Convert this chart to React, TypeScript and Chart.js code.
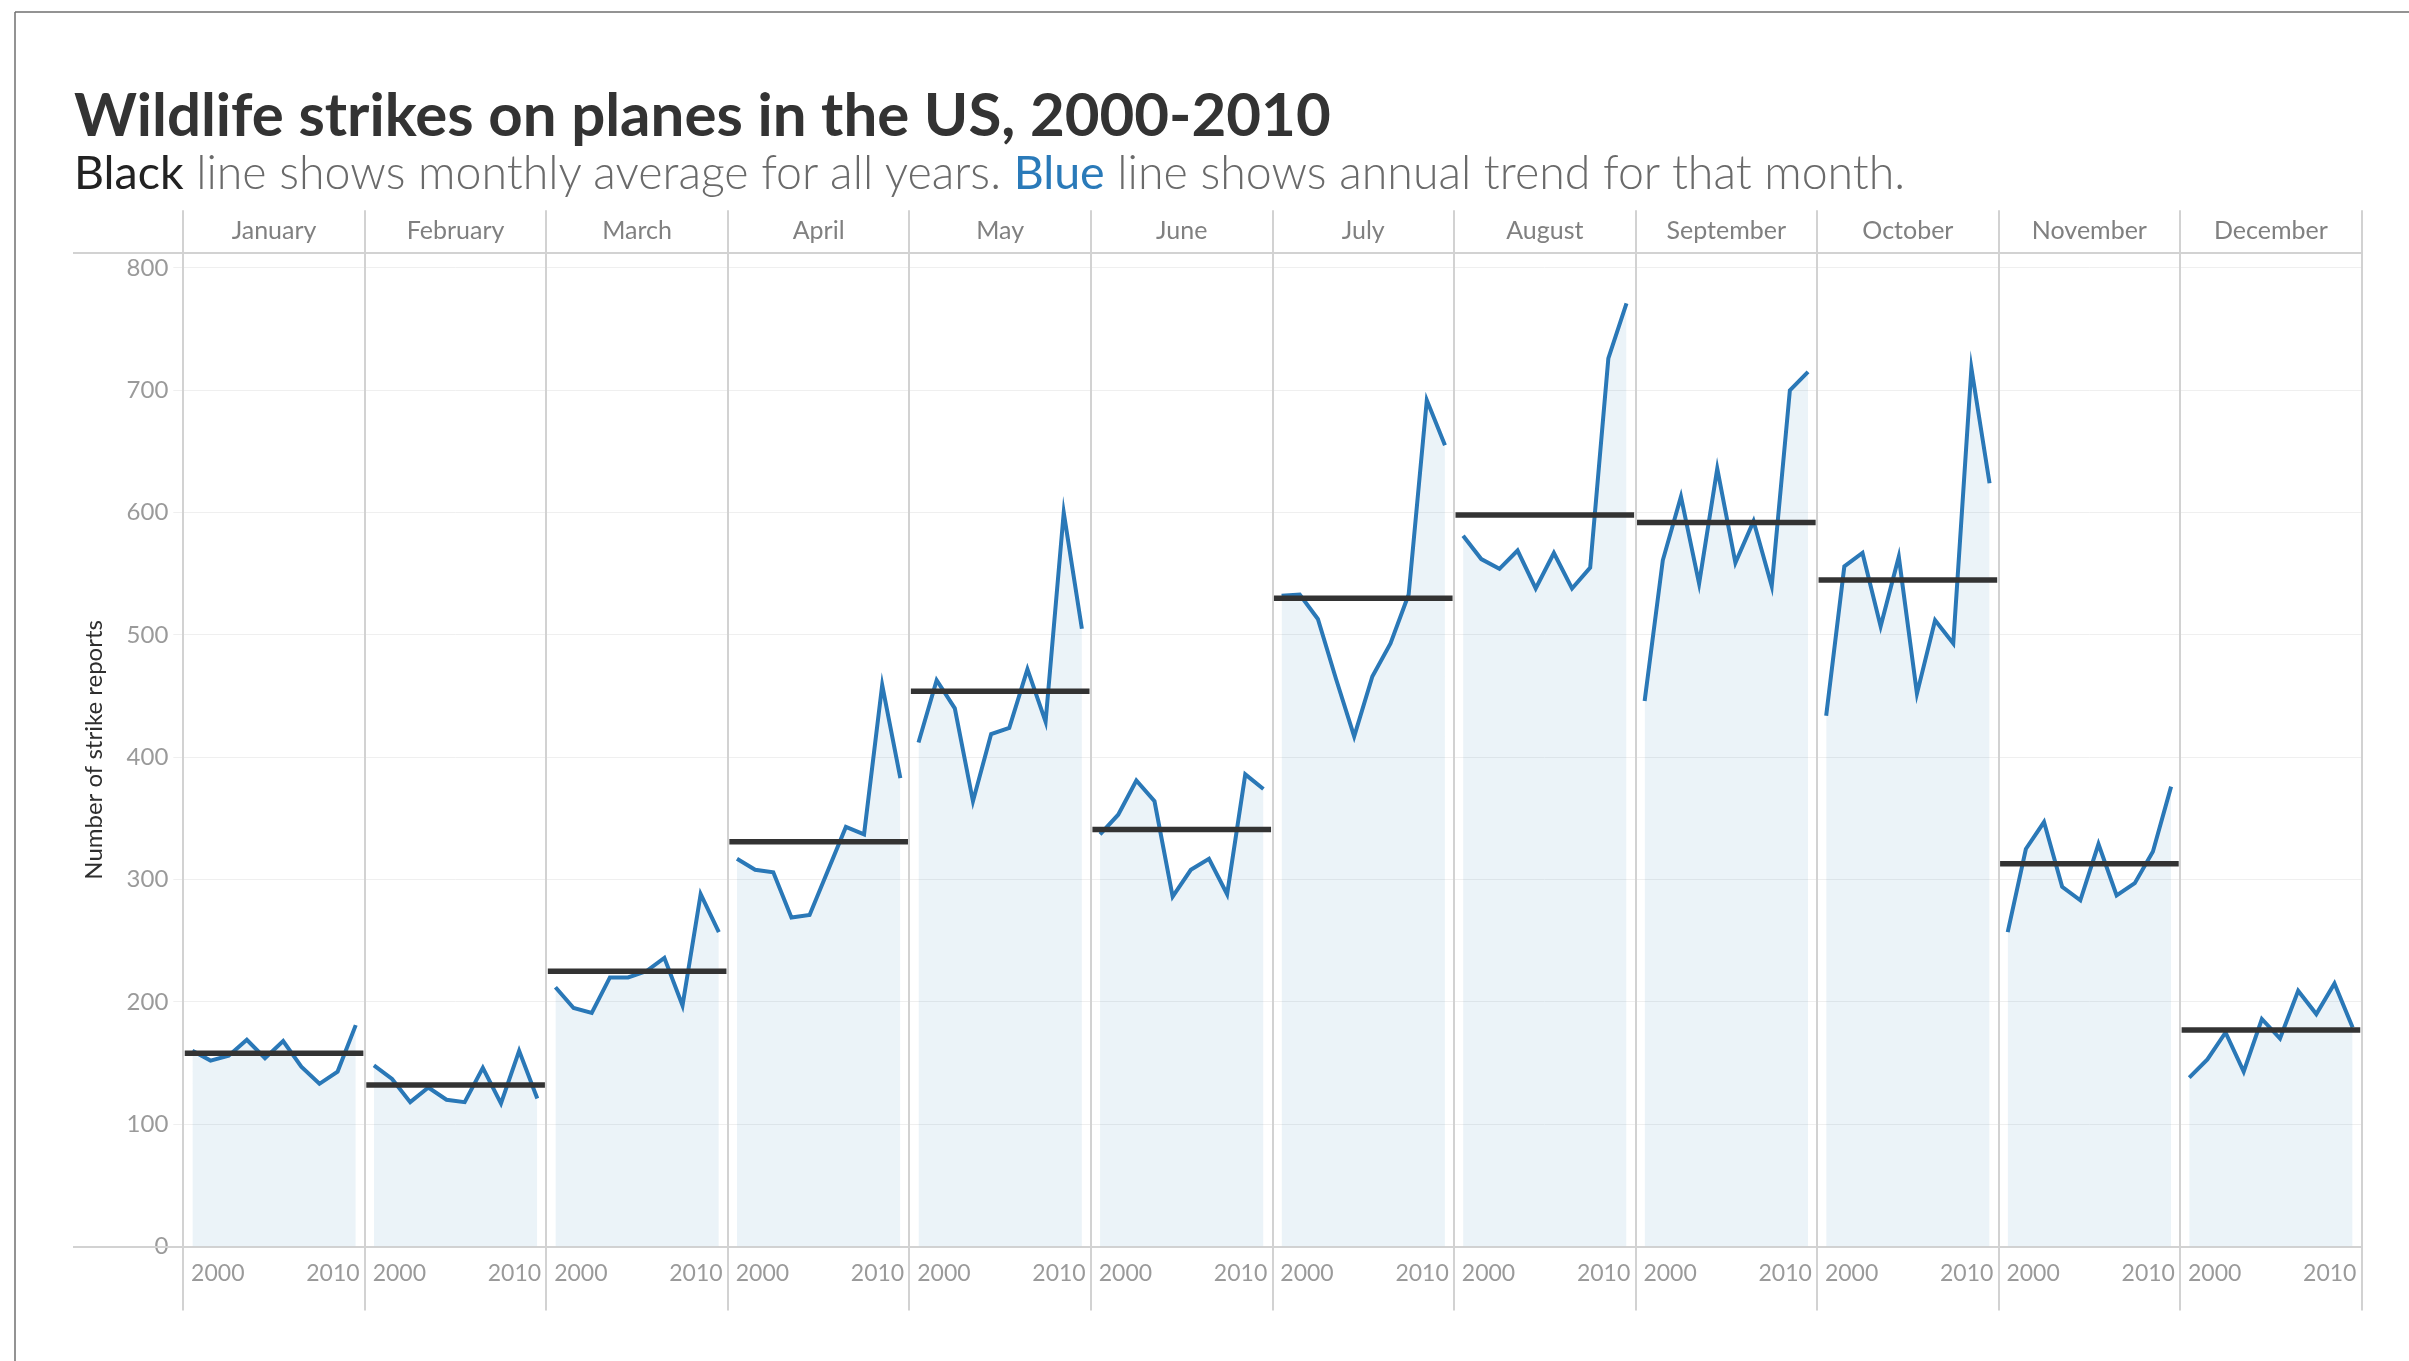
import React, { useEffect, useRef } from "react";
import { Chart, registerables } from "chart.js";

Chart.register(...registerables);

// ---------- data ----------
const months = [
  "January", "February", "March", "April", "May", "June",
  "July", "August", "September", "October", "November", "December",
];
const yearTickLabels = ["2000", "2010"];

const janStrikes = [160, 152, 156, 169, 154, 168, 147, 133, 143, 181];
const febStrikes = [148, 137, 118, 130, 120, 118, 146, 117, 160, 121];
const marStrikes = [212, 195, 191, 220, 220, 225, 236, 197, 288, 257];
const aprStrikes = [317, 308, 306, 269, 271, 307, 343, 337, 459, 383];
const mayStrikes = [412, 463, 440, 364, 419, 424, 472, 429, 600, 505];
const junStrikes = [337, 353, 381, 364, 286, 308, 317, 288, 386, 374];
const julStrikes = [532, 533, 513, 464, 417, 466, 493, 533, 692, 655];
const augStrikes = [581, 562, 554, 569, 538, 567, 538, 555, 726, 771];
const sepStrikes = [446, 561, 613, 542, 636, 559, 593, 540, 700, 715];
const octStrikes = [434, 556, 567, 507, 564, 452, 512, 493, 718, 624];
const novStrikes = [257, 325, 347, 294, 283, 329, 287, 297, 323, 376];
const decStrikes = [138, 153, 175, 143, 186, 170, 209, 190, 215, 179];

const monthlyAverage = [158, 132, 225, 331, 454, 341, 530, 598, 592, 545, 313, 177];

const strikesByMonth = [
  janStrikes, febStrikes, marStrikes, aprStrikes, mayStrikes, junStrikes,
  julStrikes, augStrikes, sepStrikes, octStrikes, novStrikes, decStrikes,
];

// ---------- layout helpers ----------
const PANEL = 10; // x units per month panel
const FONT = 'Lato, "Open Sans", "DejaVu Sans", sans-serif';
const BLUE = "#2a78b7";

const decor = {
  id: "decor",
  beforeDatasetsDraw(chart: any) {
    const { ctx, chartArea: a } = chart;
    const x = chart.scales.x;
    ctx.save();
    ctx.lineWidth = 2;
    ctx.strokeStyle = "#d2d2d2";
    for (let m = 0; m <= months.length; m++) {
      const px = Math.round(x.getPixelForValue(m * PANEL));
      ctx.beginPath();
      ctx.moveTo(px, a.top - 43);
      ctx.lineTo(px, a.bottom + 64);
      ctx.stroke();
    }
    [a.top, a.bottom].forEach((py: number) => {
      ctx.beginPath();
      ctx.moveTo(73, Math.round(py));
      ctx.lineTo(a.right, Math.round(py));
      ctx.stroke();
    });
    ctx.restore();
  },
  afterDraw(chart: any) {
    const { ctx, width, height } = chart;
    ctx.save();
    ctx.lineWidth = 1.5;
    ctx.strokeStyle = "#707070";
    ctx.beginPath();
    ctx.moveTo(15, 12);
    ctx.lineTo(width, 12);
    ctx.moveTo(15, 12);
    ctx.lineTo(15, height);
    ctx.stroke();
    ctx.restore();
  },
};

export default function App() {
  const canvasRef = useRef<HTMLCanvasElement | null>(null);

  useEffect(() => {
    document.body.style.margin = "0";
    const canvas = canvasRef.current;
    if (!canvas) return;

    const datasets: any[] = [];
    strikesByMonth.forEach((vals, m) => {
      datasets.push({
        label: months[m] + " trend",
        data: vals.map((v, i) => ({ x: m * PANEL + 0.5 + i, y: v })),
        borderColor: BLUE,
        borderWidth: 4,
        backgroundColor: "rgba(31,119,180,0.09)",
        fill: "origin",
        pointRadius: 0,
        tension: 0,
        order: 1,
        borderJoinStyle: "miter",
      });
    });
    monthlyAverage.forEach((avg, m) => {
      datasets.push({
        label: months[m] + " average",
        data: [
          { x: m * PANEL + 0.08, y: avg },
          { x: m * PANEL + PANEL - 0.08, y: avg },
        ],
        borderColor: "#333333",
        borderWidth: 5.5,
        borderCapStyle: "butt",
        pointRadius: 0,
        fill: false,
        order: 0,
      });
    });

    const chart = new Chart(canvas, {
      type: "line",
      data: { datasets },
      plugins: [decor],
      options: {
        animation: false,
        responsive: false,
        events: [],
        layout: { padding: { left: 80, top: 210, right: 47.3, bottom: 0 } },
        plugins: {
          legend: { display: false },
          tooltip: { enabled: false },
          title: { display: false },
        },
        scales: {
          x: {
            type: "linear",
            position: "bottom",
            min: 0,
            max: months.length * PANEL,
            grid: { display: false, drawTicks: false },
            border: { display: false },
            afterBuildTicks: (axis: any) => {
              axis.ticks = months.flatMap((_, m) => [
                { value: m * PANEL + 1.9 },
                { value: m * PANEL + PANEL - 1.76 },
              ]);
            },
            ticks: {
              autoSkip: false,
              maxRotation: 0,
              minRotation: 0,
              padding: 13,
              color: "#9a9a9a",
              font: { family: FONT, size: 23 },
              callback: (_v: any, i: number) => yearTickLabels[i % 2],
            },
            afterFit: (scale: any) => {
              scale.height = 114.5;
            },
          },
          x2: {
            type: "category",
            position: "top",
            labels: months,
            offset: true,
            grid: { display: false, drawTicks: false },
            border: { display: false },
            ticks: {
              autoSkip: false,
              maxRotation: 0,
              minRotation: 0,
              padding: 7,
              color: "#808080",
              font: { family: FONT, size: 25 },
            },
            afterFit: (scale: any) => {
              scale.height = 43.3;
            },
          },
          y: {
            type: "linear",
            min: 0,
            max: 812,
            grid: { color: "#efefef", lineWidth: 1, tickLength: 10, drawTicks: true },
            border: { display: false },
            ticks: {
              stepSize: 100,
              includeBounds: false,
              padding: 5,
              color: "#9a9a9a",
              font: { family: FONT, size: 24 },
            },
            title: {
              display: true,
              text: "Number of strike reports",
              color: "#2e2e2e",
              font: { family: FONT, size: 24 },
              padding: { top: 0, bottom: 0 },
            },
            afterFit: (scale: any) => {
              scale.width = 103.3;
            },
          },
        },
      } as any,
    });

    return () => chart.destroy();
  }, []);

  return (
    <div style={{ position: "absolute", left: 0, top: 0, width: 2409, height: 1361, overflow: "hidden", background: "#fff" }}>
      <canvas ref={canvasRef} width={2409} height={1361} style={{ position: "absolute", left: 0, top: 0 }} />
      <div
        style={{
          position: "absolute", left: 74, top: 83, whiteSpace: "nowrap",
          fontFamily: FONT, fontWeight: 700, fontSize: 60, lineHeight: 1, color: "#333333",
        }}
      >
        Wildlife strikes on planes in the US, 2000-2010
      </div>
      <div
        style={{
          position: "absolute", left: 74, top: 148, whiteSpace: "nowrap",
          fontFamily: FONT, fontWeight: 300, fontSize: 46.5, lineHeight: 1, color: "#6a6a6a",
        }}
      >
        <span style={{ color: "#222222", fontWeight: 400 }}>Black</span> line shows monthly average for all years.{" "}
        <span style={{ color: "#2a7ab9", fontWeight: 400 }}>Blue</span> line shows annual trend for that month.
      </div>
    </div>
  );
}
